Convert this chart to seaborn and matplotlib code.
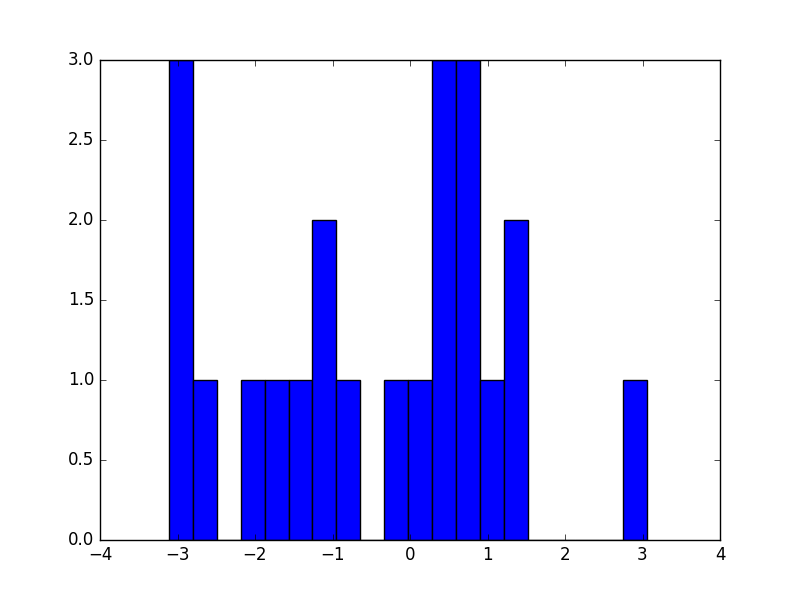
import matplotlib
matplotlib.use("Agg")
import matplotlib.pyplot as plt
import seaborn as sns
import numpy as np
import pandas as pd

# Histogram: 20 equal bins between these limits, with counts per bin
bin_start = -3.11
bin_end = 3.06
n_bins = 20
counts = [3, 1, 0, 1, 1, 1, 2, 1, 0, 1, 1, 3, 3, 1, 2, 0, 0, 0, 0, 1]

edges = np.linspace(bin_start, bin_end, n_bins + 1)
centers = (edges[:-1] + edges[1:]) / 2
df = pd.DataFrame({"x": centers, "w": counts})

plt.style.use("classic")
fig, ax = plt.subplots(figsize=(8, 6), dpi=100)
fig.patch.set_facecolor("white")
sns.histplot(data=df, x="x", weights="w", bins=n_bins, binrange=(bin_start, bin_end),
             color="#0000ff", edgecolor="black", linewidth=1, alpha=1, ax=ax)
ax.set_xlim(-4, 4)
ax.set_ylim(0, 3)
ax.set_xlabel("")
ax.set_ylabel("")
fig.subplots_adjust(left=0.125, right=0.9, bottom=0.1, top=0.9)
fig.savefig("out.png", dpi=100, facecolor="white")
